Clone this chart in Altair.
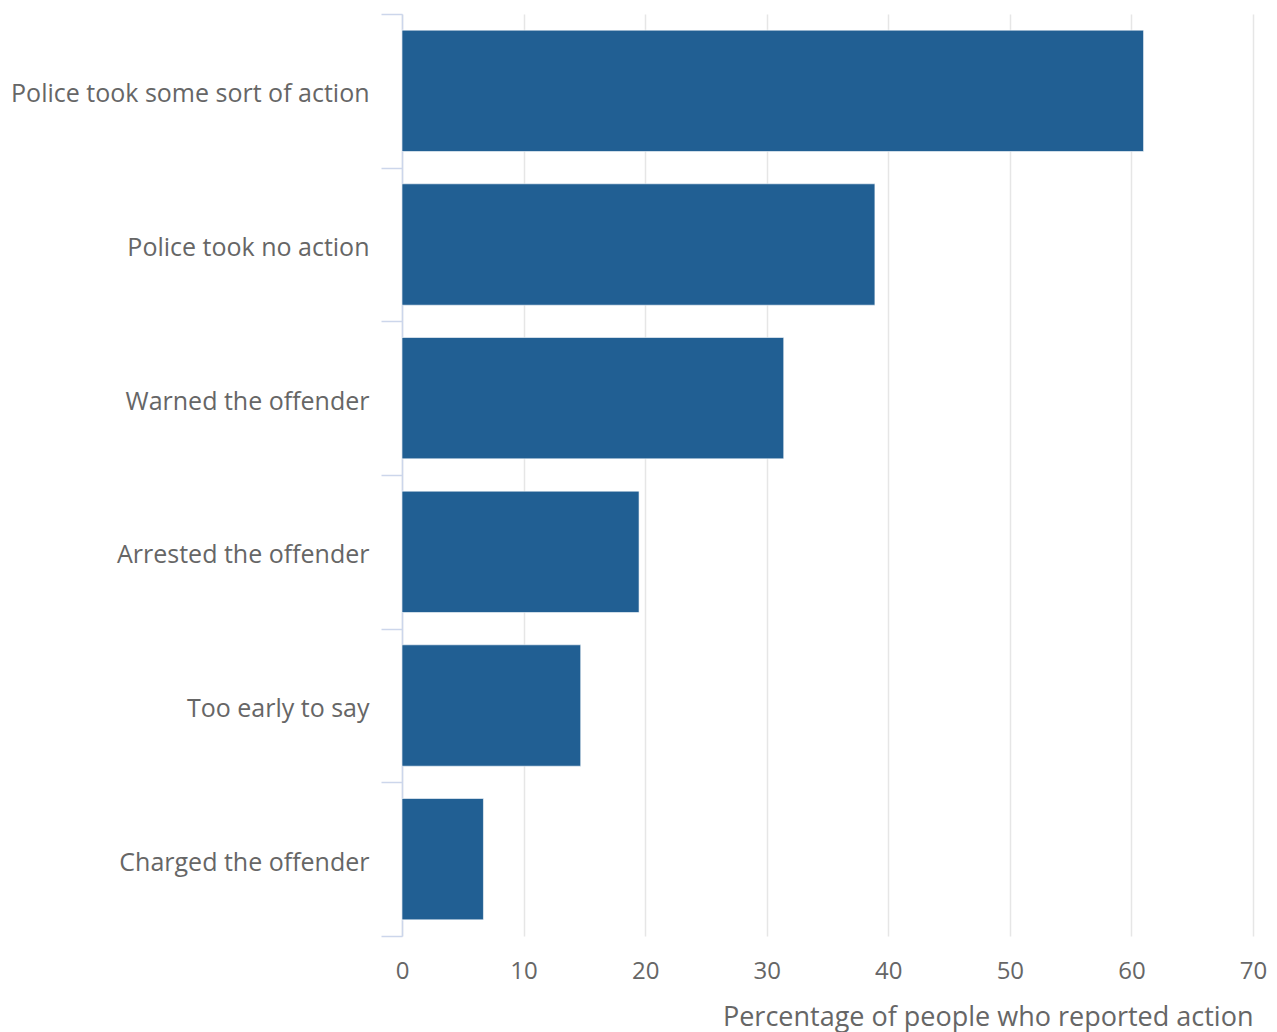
import altair as alt
import pandas as pd

categories = [
    "Police took some sort of action",
    "Police took no action",
    "Warned the offender",
    "Arrested the offender",
    "Too early to say",
    "Charged the offender",
]
values = [61.0, 38.9, 31.4, 19.5, 14.7, 6.7]
x_ticks = [0, 10, 20, 30, 40, 50, 60, 70]

df = pd.DataFrame({"category": categories, "value": values})

FONT = "Open Sans"

chart = (
    alt.Chart(df)
    .mark_bar(color="#215f93", stroke="#ffffff", strokeWidth=0.6, height={"band": 0.79})
    .encode(
        y=alt.Y(
            "category:N",
            sort=categories,
            title=None,
            scale=alt.Scale(paddingInner=0, paddingOuter=0),
            axis=alt.Axis(
                tickBand="extent",
                tickSize=21,
                tickColor="#ccd6eb",
                tickWidth=1.5,
                domainColor="#ccd6eb",
                domainWidth=1.5,
                labelPadding=12,
                labelOffset=3,
                labelFont=FONT,
                labelFontSize=25,
                labelColor="#666666",
                labelLimit=600,
                grid=False,
            ),
        ),
        x=alt.X(
            "value:Q",
            title="Percentage of people who reported action",
            scale=alt.Scale(domain=[0, 70], nice=False),
            axis=alt.Axis(
                values=x_ticks,
                domain=False,
                ticks=False,
                grid=True,
                gridColor="#e6e6e6",
                gridWidth=1.5,
                labelFlush=False,
                labelPadding=23,
                labelFont=FONT,
                labelFontSize=24,
                labelColor="#666666",
                titleFont=FONT,
                titleFontSize=27,
                titleFontWeight="normal",
                titleColor="#666666",
                titleAnchor="end",
                titleAlign="right",
                titlePadding=21,
            ),
        ),
    )
    .properties(
        width=851,
        height=922,
        autosize=alt.AutoSizeParams(type="none"),
        padding={"left": 394, "top": 6, "right": 16, "bottom": 100},
    )
    .configure_view(stroke=None)
)

chart.save("out.html", embed_options={"renderer": "svg", "actions": False})
